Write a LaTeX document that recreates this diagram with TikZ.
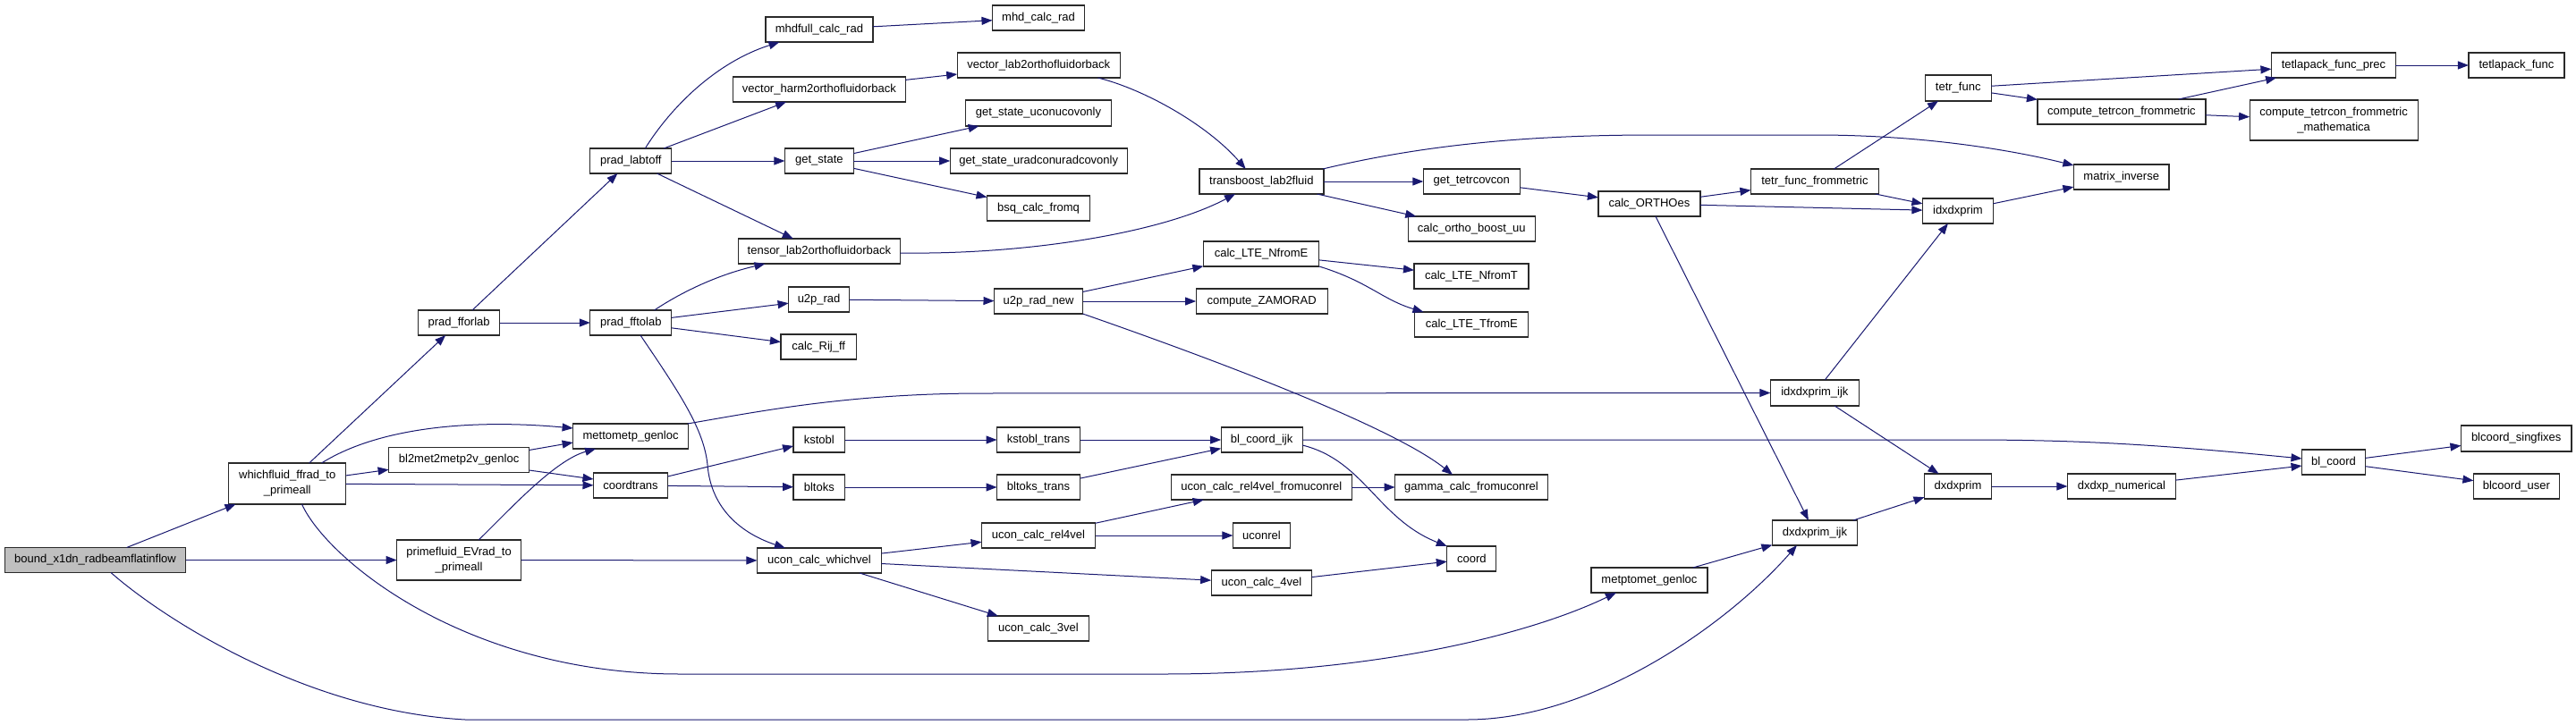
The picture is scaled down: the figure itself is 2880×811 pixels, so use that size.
\documentclass[tikz,border=0pt]{standalone}
\usepackage{fontspec}
\setmainfont{Liberation Sans}
\usetikzlibrary{arrows.meta}
\definecolor{edgeblue}{HTML}{191970}
\definecolor{nodegray}{HTML}{BFBFBF}
\definecolor{border}{HTML}{2A2A2A}
\tikzset{
  fbox/.style={draw=border, line width=1.2pt, fill=white, inner sep=0pt, outer sep=0pt,
    minimum height=28pt, align=center, font=\fontsize{13}{17}\selectfont},
  rootbox/.style={fbox, fill=nodegray},
  tall/.style={minimum height=46pt},
  edge/.style={draw=edgeblue, line width=1pt, -{Triangle[length=12pt,width=9pt]}},
}
\begin{document}
\begin{tikzpicture}[x=1pt,y=-1pt]
\useasboundingbox[fill=white] (0,0) rectangle (2880,811);
% column 1
\node[rootbox, minimum width=202pt] (bound) at (106.5,626.5) {bound\_x1dn\_radbeamflatinflow};
% column 2
\node[fbox, tall, minimum width=131pt] (whichfluid) at (321.2,541) {whichfluid\_ffrad\_to\\\_primeall};
% column 3
\node[fbox, minimum width=91pt] (fforlab) at (513.1,361) {prad\_fforlab};
\node[fbox, minimum width=157pt] (bltwo) at (513.1,514.5) {bl2met2metp2v\_genloc};
\node[fbox, tall, minimum height=45pt, minimum width=139pt] (primefluid) at (513.1,626.5) {primefluid\_EVrad\_to\\\_primeall};
% column 4
\node[fbox, minimum width=91pt] (labtoff) at (705.3,180) {prad\_labtoff};
\node[fbox, minimum width=91pt] (fftolab) at (705.3,361) {prad\_fftolab};
\node[fbox, minimum width=129pt] (mettometp) at (705.1,488) {mettometp\_genloc};
\node[fbox, minimum width=83pt] (coordtrans) at (705,543) {coordtrans};
% column 5
\node[fbox, minimum width=120pt] (mhdfull) at (915.9,33) {mhdfull\_calc\_rad};
\node[fbox, minimum width=193pt] (vecharm) at (915.9,100) {vector\_harm2orthofluidorback};
\node[fbox, minimum width=77pt] (getstate) at (915.9,180) {get\_state};
\node[fbox, minimum width=181pt] (tensor) at (915.9,281) {tensor\_lab2orthofluidorback};
\node[fbox, minimum width=68pt] (utworad) at (915.6,335) {u2p\_rad};
\node[fbox, minimum width=84.5pt] (rij) at (915.2,388) {calc\_Rij\_ff};
\node[fbox, minimum width=57.5pt] (kstobl) at (915.8,492) {kstobl};
\node[fbox, minimum width=57.5pt] (bltoks) at (915.8,545) {bltoks};
\node[fbox, minimum width=139pt] (whichvel) at (915.9,627) {ucon\_calc\_whichvel};
% column 6
\node[fbox, minimum width=103pt] (mhdcalc) at (1161,20) {mhd\_calc\_rad};
\node[fbox, minimum width=182pt] (veclab) at (1161.2,73) {vector\_lab2orthofluidorback};
\node[fbox, minimum width=163pt, minimum height=29pt] (uconucov) at (1161,126.5) {get\_state\_uconucovonly};
\node[fbox, minimum width=198pt] (uradconu) at (1161.2,180) {get\_state\_uradconuradcovonly};
\node[fbox, minimum width=115pt] (bsq) at (1161,233) {bsq\_calc\_fromq};
\node[fbox, minimum width=99pt] (utwonew) at (1161,337) {u2p\_rad\_new};
\node[fbox, minimum width=93pt] (kstobltr) at (1161,492) {kstobl\_trans};
\node[fbox, minimum width=93pt] (bltokstr) at (1161,545) {bltoks\_trans};
\node[fbox, minimum width=127pt] (rel4vel) at (1161,599) {ucon\_calc\_rel4vel};
\node[fbox, minimum width=112.5pt] (threevel) at (1161,703) {ucon\_calc\_3vel};
% column 7
\node[fbox, minimum width=139pt] (transboost) at (1410.4,203) {transboost\_lab2fluid};
\node[fbox, minimum width=129.5pt] (nfrome) at (1410.1,284) {calc\_LTE\_NfromE};
\node[fbox, minimum width=147pt] (zamo) at (1410.6,337) {compute\_ZAMORAD};
\node[fbox, minimum width=91pt] (blcoordijk) at (1410.6,492) {bl\_coord\_ijk};
\node[fbox, minimum width=201.6pt] (fromuconrel) at (1410.4,545) {ucon\_calc\_rel4vel\_fromuconrel};
\node[fbox, minimum width=64pt] (uconrel) at (1410.4,599) {uconrel};
\node[fbox, minimum width=112.5pt] (fourvel) at (1410.4,652) {ucon\_calc\_4vel};
% column 8
\node[fbox, minimum width=108pt] (tetrcov) at (1645.3,203) {get\_tetrcovcon};
\node[fbox, minimum width=142pt] (orthoboost) at (1645.3,256) {calc\_ortho\_boost\_uu};
\node[fbox, minimum width=128pt] (nfromt) at (1645,309) {calc\_LTE\_NfromT};
\node[fbox, minimum width=127pt] (tfrome) at (1645.3,363) {calc\_LTE\_TfromE};
\node[fbox, minimum width=171pt] (gamma) at (1645,545) {gamma\_calc\_fromuconrel};
\node[fbox, minimum width=55pt] (coord) at (1645.3,625) {coord};
% column 9
\node[fbox, minimum width=114pt] (orthoes) at (1843.9,228) {calc\_ORTHOes};
\node[fbox, minimum width=130pt] (metptomet) at (1843.9,649) {metptomet\_genloc};
% column 10
\node[fbox, minimum width=143pt] (tetrfm) at (2028.9,203) {tetr\_func\_frommetric};
\node[fbox, minimum width=99pt, minimum height=29pt] (idxijk) at (2028.9,439.5) {idxdxprim\_ijk};
\node[fbox, minimum width=95pt] (dxijk) at (2028.9,596) {dxdxprim\_ijk};
% column 11
\node[fbox, minimum width=74pt, minimum height=29pt] (tetrfunc) at (2189.2,98.5) {tetr\_func};
\node[fbox, minimum width=79pt] (idx) at (2188.9,236) {idxdxprim};
\node[fbox, minimum width=75pt] (dxdxprim) at (2189,544) {dxdxprim};
% column 12
\node[fbox, minimum width=188pt] (ctf) at (2371.9,125) {compute\_tetrcon\_frommetric};
\node[fbox, minimum width=106.6pt] (matinv) at (2371.7,198) {matrix\_inverse};
\node[fbox, minimum width=121pt] (dxnum) at (2371.9,544) {dxdxp\_numerical};
% column 13
\node[fbox, minimum width=139pt] (prec) at (2608.9,73) {tetlapack\_func\_prec};
\node[fbox, minimum width=188pt, minimum height=45pt] (ctfm) at (2609.1,134.5) {compute\_tetrcon\_frommetric\\\_mathematica};
\node[fbox, minimum width=71pt] (blcoord) at (2609,517) {bl\_coord};
% column 14
\node[fbox, minimum width=107pt] (tetlapack) at (2813.4,73) {tetlapack\_func};
\node[fbox, minimum width=123.5pt, minimum height=29pt] (singfix) at (2813.2,490.5) {blcoord\_singfixes};
\node[fbox, minimum width=96pt] (bluser) at (2813.4,544) {blcoord\_user};

% edges
\draw[edge] (bound) -- (whichfluid);
\draw[edge] (bound) -- (primefluid);
\draw[edge] ([xshift=17.5pt]bound.south) .. controls (180,690) and (340,795) .. (520,805) -- (1640,805) .. controls (1780,805) and (1930,700) .. ([xshift=-20pt]dxijk.south);
\draw[edge] (whichfluid) -- (fforlab);
\draw[edge] ([xshift=38.3pt]whichfluid.north) .. controls (420,480) and (520,468) .. ([yshift=9pt]mettometp.west);
\draw[edge] (whichfluid) -- (bltwo);
\draw[edge] (whichfluid) -- (coordtrans);
\draw[edge] ([xshift=16.3pt]whichfluid.south) .. controls (365,625) and (520,754) .. (760,754) -- (1300,754) .. controls (1550,754) and (1720,705) .. ([xshift=-37pt]metptomet.south);
\draw[edge] ([yshift=11pt]bltwo.east) -- ([yshift=-7pt]mettometp.west);
\draw[edge] ([yshift=-11.5pt]bltwo.east) -- ([yshift=7pt]coordtrans.west);
\draw[edge] ([xshift=22pt]primefluid.north) .. controls (570,570) and (620,515) .. ([xshift=-39pt]mettometp.south);
\draw[edge] (primefluid) -- (whichvel);
\draw[edge] (fforlab) -- (labtoff);
\draw[edge] (fforlab) -- (fftolab);
\draw[edge] ([xshift=16pt]labtoff.north) .. controls (750,120) and (800,70) .. ([xshift=-44.4pt]mhdfull.south);
\draw[edge] (labtoff) -- (vecharm);
\draw[edge] (labtoff) -- (getstate);
\draw[edge] (labtoff) -- (tensor);
\draw[edge] ([xshift=26.2pt]fftolab.north) .. controls (760,328) and (800,308) .. ([xshift=-60.4pt]tensor.south);
\draw[edge] (fftolab) -- (utworad);
\draw[edge] (fftolab) -- (rij);
\draw[edge] ([xshift=10.7pt]fftolab.south) .. controls (760,440) and (787,480) .. (791,520) .. controls (795,570) and (830,597) .. ([xshift=-38pt]whichvel.north);
\draw[edge] (mhdfull) -- (mhdcalc);
\draw[edge] (vecharm) -- (veclab);
\draw[edge] ([xshift=66.2pt]veclab.south) .. controls (1280,100) and (1350,140) .. ([xshift=-17.7pt]transboost.north);
\draw[edge] (getstate) -- (uconucov);
\draw[edge] (getstate) -- (uradconu);
\draw[edge] (getstate) -- (bsq);
\draw[edge] ([yshift=-2pt]tensor.east) .. controls (1150,285) and (1300,260) .. ([xshift=-29.4pt]transboost.south);
\draw[edge] (utworad) -- (utwonew);
\draw[edge] (utwonew) -- (nfrome);
\draw[edge] (utwonew) -- (zamo);
\draw[edge] (utwonew.south east) .. controls (1380,410) and (1560,480) .. ([xshift=-21pt]gamma.north);
\draw[edge] (nfrome) -- (nfromt);
\draw[edge] (nfrome.south east) .. controls (1530,315) and (1545,335) .. ([xshift=-53.8pt]tfrome.north);
\draw[edge] (transboost) -- (tetrcov);
\draw[edge] (transboost) -- (orthoboost);
\draw[edge] ([xshift=-1pt]transboost.north east) .. controls (1600,160) and (1720,151) .. (1850,151) -- (2030,151) .. controls (2150,151) and (2250,168) .. ([yshift=13pt]matinv.west);
\draw[edge] (tetrcov) -- (orthoes);
\draw[edge] (orthoes) -- (tetrfm);
\draw[edge] (orthoes) -- (idx);
\draw[edge] (orthoes) -- (dxijk);
\draw[edge] (tetrfm) -- (tetrfunc);
\draw[edge] (tetrfm) -- (idx);
\draw[edge] (tetrfunc) -- (prec);
\draw[edge] (tetrfunc) -- (ctf);
\draw[edge] (ctf) -- (prec);
\draw[edge] (ctf) -- (ctfm);
\draw[edge] (prec) -- (tetlapack);
\draw[edge] (idx) -- (matinv);
\draw[edge] ([xshift=-1pt]mettometp.north east) .. controls (850,460) and (950,440) .. (1100,440) -- (idxijk.west);
\draw[edge] (coordtrans) -- (kstobl);
\draw[edge] (coordtrans) -- (bltoks);
\draw[edge] (kstobl) -- (kstobltr);
\draw[edge] (bltoks) -- (bltokstr);
\draw[edge] (kstobltr) -- (blcoordijk);
\draw[edge] (bltokstr) -- (blcoordijk);
\draw[edge] (blcoordijk.east) -- (2200,492) .. controls (2330,492) and (2420,498) .. ([yshift=4pt]blcoord.west);
\draw[edge] ([yshift=-6pt]blcoordijk.east) .. controls (1525,515) and (1540,580) .. (coord.north west);
\draw[edge] (idxijk) -- (idx);
\draw[edge] (idxijk) -- (dxdxprim);
\draw[edge] (dxijk) -- (dxdxprim);
\draw[edge] (dxdxprim) -- (dxnum);
\draw[edge] (dxnum) -- (blcoord);
\draw[edge] (blcoord) -- (singfix);
\draw[edge] (blcoord) -- (bluser);
\draw[edge] (whichvel) -- (rel4vel);
\draw[edge] (whichvel) -- (fourvel);
\draw[edge] (whichvel) -- (threevel);
\draw[edge] (rel4vel) -- (fromuconrel);
\draw[edge] (rel4vel) -- (uconrel);
\draw[edge] (fromuconrel) -- (gamma);
\draw[edge] (fourvel) -- (coord);
\draw[edge] (metptomet) -- (dxijk);
\end{tikzpicture}
\end{document}
